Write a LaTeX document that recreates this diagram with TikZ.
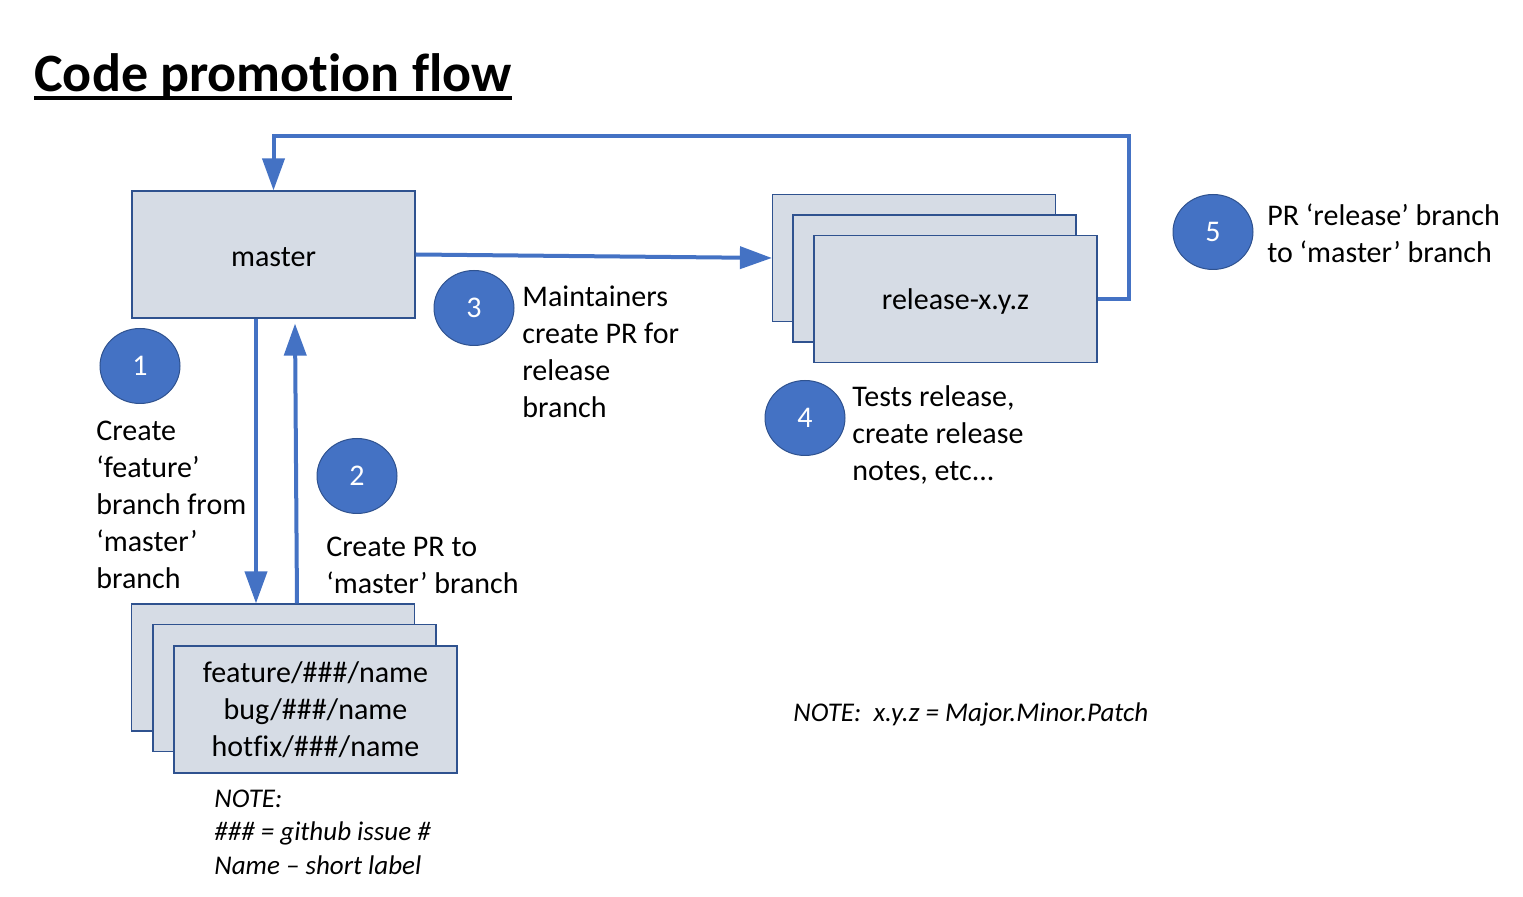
\documentclass[tikz,border=0pt]{standalone}
\usepackage{fontspec}
\setmainfont{Carlito}[Ligatures=NoCommon]
\usetikzlibrary{arrows.meta,shapes.geometric}
\definecolor{boxfill}{HTML}{D6DCE5}
\definecolor{boxline}{HTML}{2F528F}
\definecolor{arrblue}{HTML}{4472C4}
\begin{document}
\begin{tikzpicture}[x=0.5pt,y=-0.5pt,mybox/.style={rectangle, draw=boxline, fill=boxfill, line width=0.6pt, inner sep=0pt, minimum width=141.5pt, minimum height=63.5pt, font=\fontsize{15}{18.5}\selectfont},mycirc/.style={ellipse, draw=boxline, fill=arrblue, line width=0.5pt, inner sep=0pt, minimum width=40pt, minimum height=37.5pt, text=white, font=\fontsize{15}{18}\selectfont},mytxt/.style={anchor=west, align=left, inner sep=0pt, font=\fontsize{15}{18.5}\selectfont},mynote/.style={anchor=west, align=left, inner sep=0pt, font=\fontsize{13.5}{16.75}\selectfont\itshape},myarr/.style={draw=arrblue, line width=2pt, -{Triangle[width=11pt,length=16pt]}}]
  \useasboundingbox (0,0) rectangle (1523,897);

  \node[anchor=base west, inner sep=0pt, font=\fontsize{27}{33}\selectfont\bfseries] (title) at (34,92) {Code promotion flow};
  \draw[line width=2pt] ([yshift=-3pt]title.base west) -- ([yshift=-3pt]title.base east);

  \node[mybox] (m) at (273.5,254.5) {\raisebox{0pt}[\dimexpr\height+3pt\relax]{master}};

  \node[mybox] (r1) at (914,258) {};
  \node[mybox] (r2) at (934.5,278.5) {};
  \node[mybox] (r3) at (955.5,299) {\raisebox{0pt}[\dimexpr\height+3pt\relax]{release-x.y.z}};

  \node[mybox] (f1) at (273,667.5) {};
  \node[mybox] (f2) at (294.5,688) {};
  \node[mybox, align=center] (f3) at (315.5,709.5) {feature/\#\#\#/name\\bug/\#\#\#/name\\hotfix/\#\#\#/name};

  \node[mycirc] (c1) at (140,366) {1};
  \node[mycirc] (c2) at (357,476) {2};
  \node[mycirc] (c3) at (474,308) {3};
  \node[mycirc] (c4) at (805,418) {4};
  \node[mycirc] (c5) at (1213,232) {5};

  \node[mytxt] (t1) at (96,504.5) {Create\\‘feature’\\branch from\\‘master’\\branch};
  \node[mytxt] (t2) at (326,565) {Create PR to\\‘master’ branch};
  \node[mytxt] (t3) at (522,352) {Maintainers\\create PR for\\release\\branch};
  \node[mytxt] (t4) at (852,435.5) {Tests release,\\create release\\notes, etc...};
  \node[mytxt] (t5) at (1267,233.5) {PR ‘release’ branch\\to ‘master’ branch};

  \node[mynote] (n1) at (214,832) {NOTE:\\\#\#\# = github issue \#\\Name – short label};
  \node[mynote] (n2) at (793,714.5) {NOTE:\ \ x.y.z = Major.Minor.Patch};

  \coordinate (top) at (1129,136);

    \draw[myarr] (m.east) -- (r1.west);
    \draw[myarr] ([xshift=-8.75pt]m.south) -- ([xshift=-8.5pt]f1.north);
    \draw[myarr] ([xshift=12pt]f1.north) -- ([xshift=10.75pt,yshift=-2.5pt]m.south);
    \draw[myarr] (r3.east) -| (top) -| (m.north);

\end{tikzpicture}
\end{document}
